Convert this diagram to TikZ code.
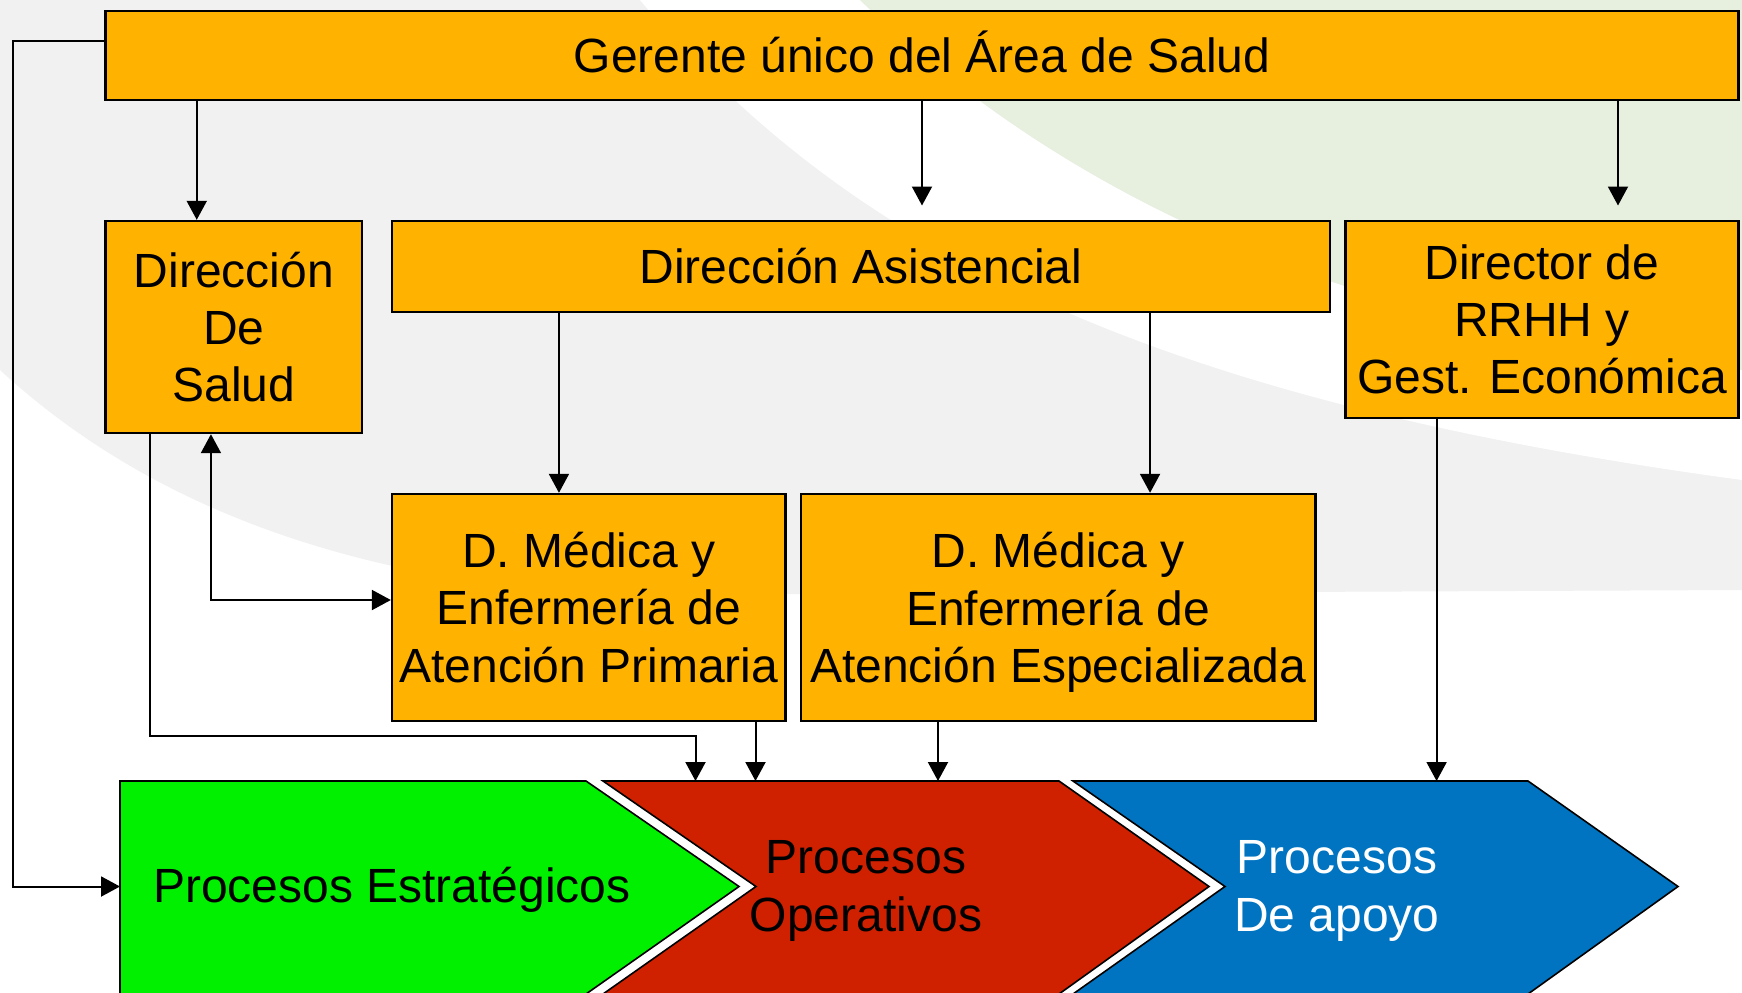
\documentclass[tikz,border=0pt]{standalone}
\usepackage{fontspec}
\setmainfont{Liberation Sans}
\usetikzlibrary{arrows.meta}

\definecolor{naranja}{RGB}{255,179,0}
\definecolor{verde}{RGB}{0,240,0}
\definecolor{rojo}{RGB}{207,32,0}
\definecolor{azul}{RGB}{0,116,192}
\definecolor{fondogris}{RGB}{241,241,241}
\definecolor{fondoverde}{RGB}{231,239,222}

\begin{document}
\begin{tikzpicture}[x=0.5pt, y=-0.5pt,
  caja/.style={draw, line width=1.2pt, fill=naranja, align=center, inner sep=0pt,
    font=\fontsize{24}{28.6}\selectfont},
  texto/.style={align=center, font=\fontsize{24}{28.6}\selectfont},
  flecha/.style={line width=1pt, -{Triangle[length=9.5pt, width=10pt]}},
  proceso/.style={draw, line width=0.8pt, line join=miter}]

\useasboundingbox (0,0) rectangle (1742,992);
\clip (0,0) rectangle (1742,992);

% fondo
\fill[white] (0,0) rectangle (1742,992);
\fill[fondogris] (0,0) -- (1742,0) -- (1742,590) -- (600,595)
  .. controls (300,575) and (120,480) .. (0,370) -- cycle;
\fill[white] (640,0) .. controls (850,250) and (1150,400) .. (1742,480)
  -- (1742,370) .. controls (1400,330) and (1100,230) .. (860,0) -- cycle;
\fill[fondoverde] (860,0) .. controls (1100,230) and (1400,330) .. (1742,370)
  -- (1742,0) -- cycle;

% procesos
\draw[proceso, fill=verde] (120,781) -- (586,781) -- (739,886.5) -- (586,994) -- (120,994) -- cycle;
\draw[proceso, fill=rojo] (603,781) -- (1059,781) -- (1209,886.5) -- (1059,994) -- (603,994) -- (756,886.5) -- cycle;
\draw[proceso, fill=azul] (1073,781) -- (1528,781) -- (1678,886.5) -- (1528,994) -- (1073,994) -- (1225,886.5) -- cycle;

\node[texto] (estrategicos) at (392,890) {Procesos Estratégicos};
\node[texto] (operativos) at (866,891) {Procesos\\Operativos};
\node[texto, text=white] (apoyo) at (1337,891) {Procesos\\De apoyo};

% cajas
\node[caja, minimum width=816.6pt, minimum height=44.5pt, text height=17.2pt, text depth=0pt]
  (gerente) at (922,55.5) {Gerente único del Área de Salud};
\node[caja, minimum width=128.2pt, minimum height=106pt] (dsalud) at (233.75,327)
  {Dirección\\De\\Salud};
\node[caja, minimum width=469pt, minimum height=45.5pt] (dasist) at (861,266.5)
  {Dirección Asistencial};
\node[caja, minimum width=196.6pt, minimum height=98.5pt] (rrhh) at (1542,319.5)
  {Director de\\RRHH y\\Gest. Económica};
\node[caja, minimum width=196.7pt, minimum height=113.5pt] (dmap) at (588.75,607.5)
  {D. Médica y\\Enfermería de\\Atención Primaria};
\node[caja, minimum width=257.2pt, minimum height=113.5pt] (dmae) at (1058.25,607.5)
  {D. Médica y\\Enfermería de\\\smash{Atención Especializada}};

% puntos libres
\coordinate (gasist) at (922,205.5);
\coordinate (grrhh) at (1618,205.5);
\coordinate (estrin) at (120,886.5);
\coordinate (op1) at (695.5,781);
\coordinate (op2) at (755.5,781);
\coordinate (op3) at (938,781);
\coordinate (ap1) at (1436.6,781);

% conexiones
\draw[flecha] ([xshift=-18.5pt]dsalud.north |- gerente.south) -- ([xshift=-18.5pt]dsalud.north);
\draw[flecha] (gerente.south) -- (gasist);
\draw[flecha] (grrhh |- gerente.south) -- (grrhh);
\draw[flecha] ([yshift=7.25pt]gerente.west) -- ++(-91,0) |- (estrin);

\draw[flecha] ([xshift=-14.9pt]dmap.north |- dasist.south) -- ([xshift=-14.9pt]dmap.north);
\draw[flecha] ([xshift=45.9pt]dmae.north |- dasist.south) -- ([xshift=45.9pt]dmae.north);

\draw[flecha, {Triangle[length=9.5pt, width=10pt]}-{Triangle[length=9.5pt, width=10pt]}]
  ([xshift=-11.4pt]dsalud.south) |- ([yshift=3.75pt]dmap.west);
\draw[flecha] ([xshift=-41.9pt]dsalud.south) -- ++(0,301.5) -| (op1);

\draw[flecha] (op2 |- dmap.south) -- (op2);
\draw[flecha] (op3 |- dmae.south) -- (op3);
\draw[flecha] (ap1 |- rrhh.south) -- (ap1);

\end{tikzpicture}
\end{document}
